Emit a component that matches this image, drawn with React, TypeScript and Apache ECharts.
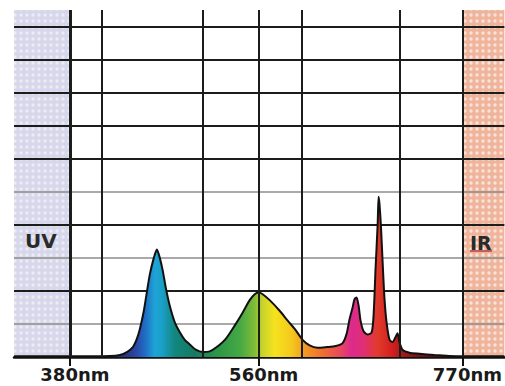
import React, { useEffect, useRef } from "react";
import * as echarts from "echarts";

// Spectrum of the lamp: wavelength (nm) and relative intensity (grid units)
const WAVELENGTH_NM = [
  326.7, 380, 418, 427.6, 434.3, 440, 443.8, 446.7, 450.5, 453.3, 456.2, 460, 462.9, 465.7,
  468.6, 471.4, 475.2, 480, 484.8, 489.5, 494.3, 500, 506.7, 513.3, 520, 528.6, 537.1, 544.8,
  551.4, 556.2, 560, 564.1, 571.3, 581.6, 589.9, 597.1, 605.3, 612.5, 620.7, 630, 639.3,
  646.5, 650.6, 653.7, 656.8, 658.8, 660.9, 663, 665, 668.1, 672.2, 676.4, 678.4, 680.5,
  682.6, 683.6, 684.6, 686.1, 687.7, 689.7, 691.8, 694.9, 698, 701, 703.1, 705.1, 708.2,
  715.4, 725.7, 741.2, 756.6, 770, 813.2,
];
const INTENSITY = [
  0.02, 0.02, 0.03, 0.06, 0.15, 0.3, 0.55, 0.85, 1.4, 1.95, 2.5, 3.0, 3.25, 3.0,
  2.6, 2.1, 1.55, 1.05, 0.75, 0.52, 0.38, 0.22, 0.15, 0.17, 0.3, 0.55, 0.95, 1.35,
  1.72, 1.9, 1.95, 1.9, 1.72, 1.4, 1.1, 0.85, 0.52, 0.35, 0.28, 0.3, 0.33,
  0.42, 0.7, 1.15, 1.5, 1.75, 1.8, 1.55, 1.1, 0.78, 0.68, 0.74, 1.25, 2.7,
  4.0, 4.85, 4.6, 3.9, 2.9, 1.75, 1.05, 0.52, 0.45, 0.6, 0.72, 0.45, 0.22,
  0.13, 0.1, 0.06, 0.03, 0.02, 0.02,
];

// Axis labels and grid lines (nm), horizontal grid levels
const LABEL_NM = [380, 560, 770];
const VGRID_NM = [380, 410, 507, 560, 604, 705, 770];
const HGRID_LEVELS = [1, 2, 3, 4, 5, 6, 7, 8, 9, 10];
const LIGHT_LEVELS = [1, 3, 5];
const Y_MAX = 10.5;
const UV_RANGE_NM = [326.7, 380];
const IR_RANGE_NM = [770, 813.2];

// Spectral colour of the fill (nm -> colour)
const SPECTRUM_COLORS: [number, string][] = [
  [326.7, "#2b2f78"],
  [432.4, "#283480"],
  [443.8, "#2a4aa8"],
  [451.4, "#1f6cc4"],
  [461, "#1ea4d6"],
  [467.6, "#1aa0c8"],
  [480, "#12867e"],
  [499, "#157a62"],
  [518, "#2a9448"],
  [541.9, "#44a844"],
  [556.2, "#80bc38"],
  [564.1, "#c8d42c"],
  [576.5, "#f6e21e"],
  [594, "#f4c81e"],
  [607.4, "#f29a22"],
  [628, "#ee6a34"],
  [643.4, "#ea4a5a"],
  [655.7, "#dc2a8e"],
  [669.1, "#e03070"],
  [682.6, "#e03a2a"],
  [697, "#d42020"],
  [710.4, "#a01818"],
  [736, "#5a1010"],
  [813.2, "#2a0a0a"],
];

// The picture's wavelength axis is piecewise linear
const SCALE_NM = [380, 560, 770];
const SCALE_POS = [56, 245, 449];
const AXIS_MAX = 491;

function nmToPos(nm: number): number {
  let i = 0;
  if (nm > SCALE_NM[1]) i = 1;
  const slope = (SCALE_POS[i + 1] - SCALE_POS[i]) / (SCALE_NM[i + 1] - SCALE_NM[i]);
  return SCALE_POS[i] + (nm - SCALE_NM[i]) * slope;
}
function posToNm(p: number): number {
  let i = 0;
  if (p > SCALE_POS[1]) i = 1;
  const slope = (SCALE_NM[i + 1] - SCALE_NM[i]) / (SCALE_POS[i + 1] - SCALE_POS[i]);
  return SCALE_NM[i] + (p - SCALE_POS[i]) * slope;
}

function dotPattern(bg: string, dot: string) {
  const svg =
    `<svg xmlns="http://www.w3.org/2000/svg" width="6" height="6">` +
    `<rect width="6" height="6" fill="${bg}"/>` +
    `<circle cx="3" cy="3" r="1.7" fill="${dot}"/></svg>`;
  return { image: "data:image/svg+xml;charset=utf-8," + encodeURIComponent(svg), repeat: "repeat" };
}

export default function App() {
  const ref = useRef<HTMLDivElement>(null);
  useEffect(() => {
    if (!ref.current) return;
    const chart = echarts.init(ref.current, undefined, { renderer: "svg" });
    const data = WAVELENGTH_NM.map((nm, i) => [nmToPos(nm), INTENSITY[i]]);
    const p0 = nmToPos(WAVELENGTH_NM[0]);
    const p1 = nmToPos(WAVELENGTH_NM[WAVELENGTH_NM.length - 1]);
    const stops = SPECTRUM_COLORS.map(([nm, c]) => ({
      offset: Math.min(1, Math.max(0, (nmToPos(nm) - p0) / (p1 - p0))),
      color: c,
    }));
    const labelPos = LABEL_NM.map(nmToPos);
    const dark = "#1c1c1c";
    chart.setOption({
      animation: false,
      backgroundColor: "#ffffff",
      grid: { left: 14, right: 0, top: 10, bottom: 29 },
      xAxis: {
        type: "value",
        min: 0,
        max: AXIS_MAX,
        splitLine: { show: false },
        axisLine: { show: true, lineStyle: { color: "#111", width: 2.5 } },
        axisTick: {
          show: true,
          customValues: labelPos,
          length: 9,
          lineStyle: { color: "#111", width: 2 },
        },
        axisLabel: {
          show: true,
          customValues: labelPos,
          margin: 8,
          padding: [0, 0, 0, 10],
          formatter: (v: number) => Math.round(posToNm(v)) + "nm",
          fontFamily: "DejaVu Sans",
          fontWeight: "bold",
          fontSize: 18,
          color: "#1a1a1a",
        },
      },
      yAxis: { type: "value", min: 0, max: Y_MAX, show: false, splitLine: { show: false } },
      series: [
        {
          type: "line",
          data: [],
          silent: true,
          markArea: {
            silent: true,
            z: 0,
            data: [
              [
                { xAxis: nmToPos(UV_RANGE_NM[0]), yAxis: 0, itemStyle: {
                  color: dotPattern("#d6d7ea", "#ececf5"),
                } },
                { xAxis: nmToPos(UV_RANGE_NM[1]), yAxis: Y_MAX },
              ],
              [
                { xAxis: nmToPos(IR_RANGE_NM[0]), yAxis: 0, itemStyle: {
                  color: dotPattern("#efb49c", "#fae2d8"),
                } },
                { xAxis: nmToPos(IR_RANGE_NM[1]), yAxis: Y_MAX },
              ],
            ],
          },
          markLine: {
            silent: true,
            z: 1,
            symbol: "none",
            label: { show: false },
            data: HGRID_LEVELS.map((lv) => ({
              yAxis: lv,
              lineStyle: LIGHT_LEVELS.includes(lv)
                ? { color: "#8c8c8c", width: 1.5, type: "solid" }
                : { color: dark, width: 2, type: "solid" },
            })),
          },
        },
        {
          type: "line",
          z: 2,
          data,
          smooth: 0.25,
          symbol: "none",
          silent: true,
          lineStyle: { color: "#111", width: 2 },
          areaStyle: {
            opacity: 1,
            color: new echarts.graphic.LinearGradient(0, 0, 1, 0, stops),
          },
        },
        {
          type: "line",
          data: [],
          silent: true,
          markLine: {
            silent: true,
            z: 5,
            symbol: "none",
            label: { show: false },
            data: VGRID_NM.map((nm) => ({
              xAxis: nmToPos(nm),
              lineStyle: { color: dark, width: nm === 380 ? 3 : 2, type: "solid" },
            })),
          },
        },
      ],
      graphic: [
        {
          type: "text",
          left: 25,
          top: 231,
          z: 10,
          style: { text: "UV", fontFamily: "DejaVu Sans", fontWeight: "bold", fontSize: 20, fill: "#2a2a2a" },
        },
        {
          type: "text",
          left: 470,
          top: 233,
          z: 10,
          style: { text: "IR", fontFamily: "DejaVu Sans", fontWeight: "bold", fontSize: 19, fill: "#2a2a2a" },
        },
        {
          type: "line",
          z: 10,
          shape: { x1: 470, y1: 251, x2: 492, y2: 251 },
          style: { stroke: "#b04040", lineWidth: 1.5 },
        },
      ],
    });
    return () => chart.dispose();
  }, []);
  return (
    <div
      ref={ref}
      style={{ position: "fixed", left: 0, top: 0, width: 505, height: 386, background: "#fff" }}
    />
  );
}
